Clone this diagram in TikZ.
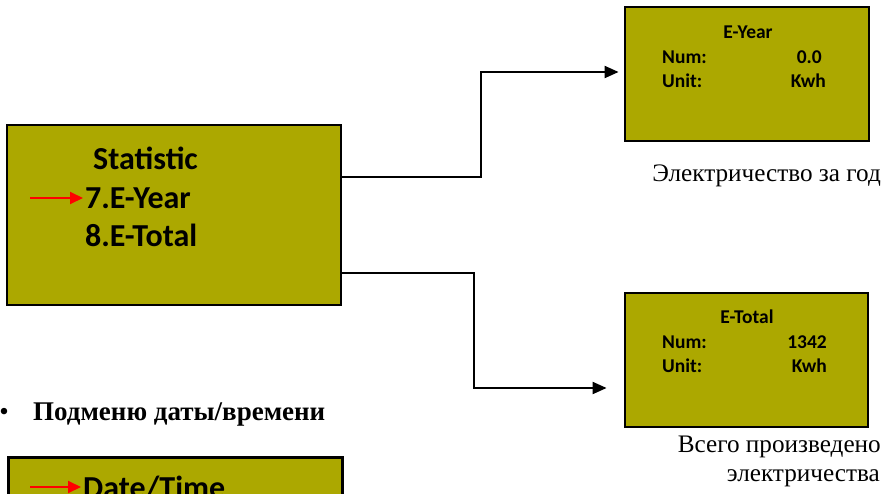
\documentclass[tikz,border=0pt]{standalone}
\usepackage{fontspec}
\setmainfont{Liberation Serif}
\newfontfamily\lcdfont{Carlito}
\usetikzlibrary{arrows.meta,positioning}
\definecolor{lcd}{RGB}{172,168,0}
\tikzset{
  lcdbox/.style={draw=black, line width=2.8pt, fill=lcd, inner sep=0pt},
  bigtxt/.style={font=\lcdfont\bfseries\fontsize{32}{36}\selectfont, inner sep=0pt, anchor=base west},
  smalltxt/.style={font=\lcdfont\bfseries\fontsize{19.5}{22}\selectfont, inner sep=0pt},
  captxt/.style={font=\fontsize{25.2}{30}\selectfont, inner sep=0pt, anchor=base east},
  conn/.style={draw=black, line width=2pt, -{Triangle[length=14pt,width=12pt]}},
  redarr/.style={draw=red, line width=2pt, -{Triangle[length=13pt,width=12pt]}}
}
\begin{document}
\begin{tikzpicture}[x=1pt,y=-1pt]
\useasboundingbox (0,0) rectangle (884,493);
\begin{scope}
\clip (0,0) rectangle (884,493);
% main box
\node[lcdbox, minimum width=334pt, minimum height=180pt] (main) at (174,215) {};
\node[bigtxt] (stat) at (93,169) {Statistic};
\node[bigtxt] (ey) at (85,208) {7.E-Year};
\node[bigtxt] (et) at (85,246) {8.E-Total};
\coordinate (ra1) at (30,198);
\draw[redarr] (ra1) -- ([xshift=-2pt]ey.west |- ra1);
% E-Year box
\node[lcdbox, minimum width=244pt, minimum height=134pt] (eyear) at (747,74) {};
\node[smalltxt, anchor=base] (eyt) at (748,38) {E-Year};
\node[smalltxt, anchor=base west] (eyn) at (662,63) {Num:};
\node[smalltxt, anchor=base east] (eynv) at (822,63) {0.0};
\node[smalltxt, anchor=base west] (eyu) at (662,87) {Unit:};
\node[smalltxt, anchor=base east] (eyuv) at (826,87) {Kwh};
% E-Total box
\node[lcdbox, minimum width=243pt, minimum height=134pt] (etotal) at (746.5,360) {};
\node[smalltxt, anchor=base] (ett) at (747,323) {E-Total};
\node[smalltxt, anchor=base west] (etn) at (662,348) {Num:};
\node[smalltxt, anchor=base east] (etnv) at (827,348) {1342};
\node[smalltxt, anchor=base west] (etu) at (662,372) {Unit:};
\node[smalltxt, anchor=base east] (etuv) at (827,372) {Kwh};
% captions
\node[captxt] (c1) at (881,181) {Электричество за год};
\node[captxt] (c2) at (881,452) {Всего произведено};
\node[captxt] (c3) at (880,481) {электричества};
% connectors
\draw[conn, shorten >=5pt] ([yshift=38pt]main.east) -- ++(139,0) |- ([yshift=2pt]eyear.west);
\draw[conn, shorten >=17pt] ([yshift=-58pt]main.east) -- ++(132,0) |- ([yshift=-28pt]etotal.west);
% bullet heading
\node[inner sep=0pt, anchor=base] (bul) at (4,420) {\fontsize{27}{32}\selectfont •};
\node[inner sep=0pt, anchor=base west, font=\bfseries\fontsize{27}{32}\selectfont] (head) at (33,420) {Подменю даты/времени};
% bottom box
\node[lcdbox, minimum width=334pt, minimum height=120pt, anchor=north west] (dt) at (7,456) {};
\node[bigtxt] (dtt) at (83,498) {Date/Time};
\coordinate (ra2) at (30,487);
\draw[redarr] (ra2) -- ([xshift=-2pt]dtt.west |- ra2);
\end{scope}
\end{tikzpicture}
\end{document}
